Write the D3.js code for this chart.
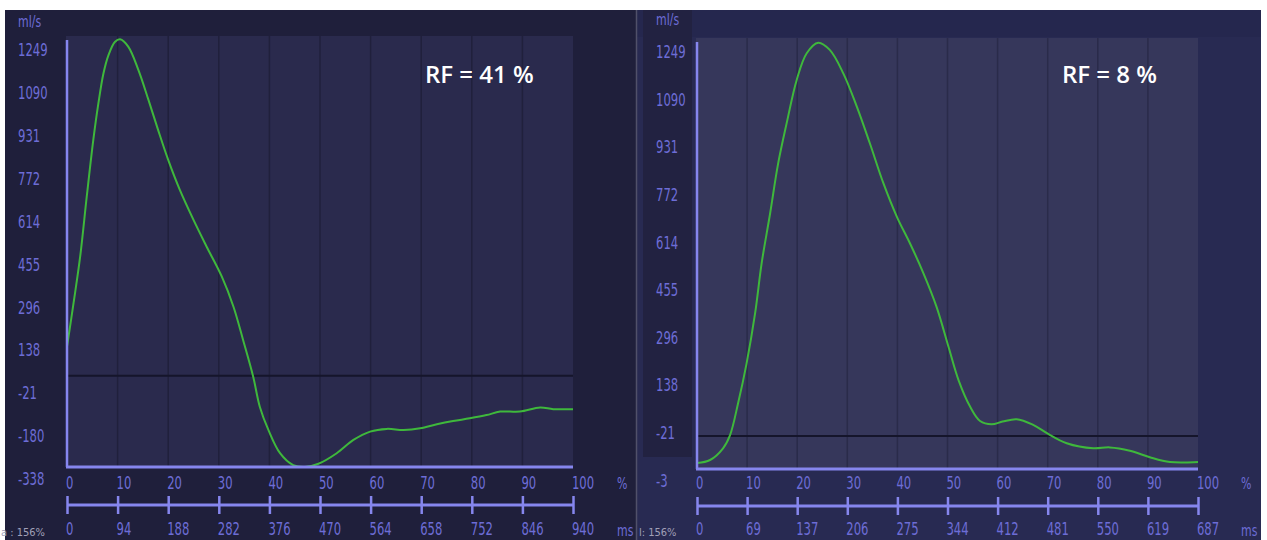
<!DOCTYPE html>
<html><head><meta charset="utf-8">
<script src="https://cdn.jsdelivr.net/npm/d3@7"></script>
<style>body{margin:0;background:#fff;} svg{display:block}</style>
</head><body>
<svg id="c" width="1267" height="540"></svg>
<script>
// ---------- data ----------
const pctTicks = [0,10,20,30,40,50,60,70,80,90,100];
const yTicksLeft = [1249,1090,931,772,614,455,296,138,-21,-180,-338];
const yTickLabelsLeft = ["1249","1090","931","772","614","455","296","138","-21","-180","-338"];
const yTicksRight = [1249,1090,931,772,614,455,296,138,-21,-180];
const yTickLabelsRight = ["1249","1090","931","772","614","455","296","138","-21","-3"];
const msLabelsLeft = ["0","94","188","282","376","470","564","658","752","846","940"];
const msLabelsRight = ["0","69","137","206","275","344","412","481","550","619","687"];

const leftPct  = [0,1.3,2.6,3.9,5.2,6.2,7.2,8.2,9.5,10.5,12.1,14.1,16.1,18.0,20.0,22.3,25.0,27.6,30.6,32.9,34.8,36.8,38.1,39.8,42.1,44.7,47.0,49.7,53.3,56.6,59.9,63.2,66.5,69.8,73.1,76.3,79.6,82.9,85.6,89.5,93.5,96.1,100];
const leftFlow = [107,269,440,662,872,1007,1118,1186,1235,1244,1217,1131,1020,909,798,687,576,477,366,255,132,-4,-115,-201,-287,-331,-338,-326,-287,-238,-207,-197,-201,-195,-180,-168,-158,-146,-133,-133,-118,-124,-124];

const rightPct  = [0,2.6,5.2,6.6,8.2,9.9,11.6,12.9,14.6,16.2,17.9,19.9,21.9,24.2,26.5,29.2,31.9,34.5,37.2,39.9,42.5,45.2,47.8,50.2,52.2,54.5,56.5,58.8,61.0,63.8,67.1,70.1,73.8,79.1,82.4,86.4,90.4,94.4,100];
const rightFlow = [-160,-150,-111,-67,39,172,339,505,672,838,972,1116,1205,1240,1216,1138,1027,905,772,660,572,472,361,227,116,28,-20,-31,-22,-14,-33,-63,-94,-111,-108,-119,-141,-157,-157];

const rfLeft = "RF = 41 %";
const rfRight = "RF = 8 %";
const refLineLeft = 0;
const refLineRight = -70;

// ---------- drawing ----------
const svg = d3.select("#c");
const labelFont = "'DejaVu Sans Condensed','Liberation Sans Narrow',sans-serif";
const labelColor = "#6d6dd6";
const axisColor = "#8686ee";
const SX = 0.76;

function styleLabel(sel, size) {
  return sel.attr("fill", labelColor).style("font-family", labelFont).style("font-size", size + "px");
}

function panel(cfg) {
  const g = svg.append("g");
  // backgrounds
  g.append("rect").attr("x", cfg.px0).attr("y", 10).attr("width", cfg.px1 - cfg.px0).attr("height", 530).attr("fill", cfg.outer);
  if (cfg.topBand) g.append("rect").attr("x", cfg.px0).attr("y", 10).attr("width", cfg.px1 - cfg.px0).attr("height", 27).attr("fill", cfg.topBand);
  if (cfg.labelBox) g.append("rect").attr("x", cfg.labelBox[0]).attr("y", 10).attr("width", cfg.labelBox[1]-cfg.labelBox[0]).attr("height", cfg.labelBox[2]-10).attr("fill", cfg.labelBoxFill);
  const x = d3.scaleLinear().domain([0,100]).range([cfg.x0, cfg.x1]);
  const y = d3.scaleLinear().domain([cfg.yMin, 1249]).range([cfg.yBottom, cfg.yTop]);
  g.append("rect").attr("x", x(0)-1).attr("y", cfg.yTop-2).attr("width", x(100)-x(0)+1).attr("height", cfg.yBottom-cfg.yTop+2).attr("fill", cfg.plotFill);

  // vertical grid
  g.append("g").selectAll("line").data(pctTicks.slice(1,-1)).join("line")
    .attr("x1", d=>x(d)).attr("x2", d=>x(d)).attr("y1", cfg.yTop-2).attr("y2", cfg.yBottom)
    .attr("stroke", cfg.gridColor).attr("stroke-width", 1.5);

  // reference (zero) line
  g.append("line").attr("x1", x(0)).attr("x2", x(100)).attr("y1", y(cfg.ref)).attr("y2", y(cfg.ref))
    .attr("stroke", "#15152b").attr("stroke-width", 2);

  // curve
  const line = d3.line().x((d,i)=>x(cfg.pct[i])).y(d=>y(d)).curve(d3.curveCatmullRom.alpha(0.5));
  g.append("path").attr("d", line(cfg.flow)).attr("fill","none").attr("stroke","#3fb83c").attr("stroke-width",2);

  // axis lines
  g.append("line").attr("x1", x(0)).attr("x2", x(0)).attr("y1", cfg.yTop+2).attr("y2", cfg.yBottom)
    .attr("stroke", axisColor).attr("stroke-width", 2.5);
  g.append("line").attr("x1", x(0)-1).attr("x2", x(100)).attr("y1", cfg.yBottom).attr("y2", cfg.yBottom)
    .attr("stroke", axisColor).attr("stroke-width", 3);

  // y labels
  const ya = g.append("g").attr("transform", `translate(${cfg.yLabelX},0)`)
    .call(d3.axisLeft(y).tickValues(cfg.yTicks).tickSize(0).tickFormat((d,i)=>cfg.yLabels[i]));
  ya.select(".domain").remove();
  styleLabel(ya.selectAll("text").attr("x", 0).attr("y", 12).attr("text-anchor","start")
    .attr("transform", `scale(${SX},1)`), 17);

  // % axis labels
  const xa = g.append("g").attr("transform", `translate(0,${cfg.yBottom})`)
    .call(d3.axisBottom(x).tickValues(pctTicks).tickSize(0));
  xa.select(".domain").remove();
  styleLabel(xa.selectAll("text").attr("x", -2).attr("y", 484 - cfg.yBottom).attr("dy","0.32em").attr("text-anchor","start")
    .attr("transform", `scale(${SX},1)`), 17);

  // ms axis
  const msY = cfg.msY;
  g.append("line").attr("x1", x(0)).attr("x2", x(100)).attr("y1", msY).attr("y2", msY)
    .attr("stroke", axisColor).attr("stroke-width", 3);
  const ma = g.append("g").attr("transform", `translate(0,${msY})`)
    .call(d3.axisBottom(x).tickValues(pctTicks).tickSize(9).tickFormat((d,i)=>cfg.msLabels[i]));
  ma.select(".domain").remove();
  ma.selectAll(".tick line").attr("y1", -9).attr("y2", 9).attr("stroke", axisColor).attr("stroke-width", 2.5);
  styleLabel(ma.selectAll("text").attr("x", -2).attr("y", 530 - msY).attr("dy","0.32em").attr("text-anchor","start")
    .attr("transform", `scale(${SX},1)`), 17);

  // units
  const unit = (t, ux, uy) => styleLabel(g.append("text").attr("transform", `translate(${ux},${uy}) scale(${SX},1)`)
    .attr("dy","0.32em").text(t), 16);
  unit("ml/s", cfg.yLabelX, cfg.unitY);
  unit("%", cfg.unitX, 484);
  unit("ms", cfg.unitX, 531);

  // small footer
  g.append("text").attr("x", cfg.footX).attr("y", 536).text(cfg.foot)
    .attr("fill", "#a0a0b8").style("font-family","'DejaVu Sans Condensed',sans-serif").style("font-size","11px");

  // RF label
  g.append("text").attr("x", cfg.rfX).attr("y", 83).text(cfg.rf)
    .attr("fill", "#ffffff").style("font-family","'Open Sans',sans-serif").style("font-weight","600").style("font-size","24px");
}

panel({px0:5, px1:636, outer:"#1f1f3b", plotFill:"#2a2a4d", gridColor:"#20203c",
  x0:67, x1:573, yTop:38, yBottom:467, yMin:-338, ref:refLineLeft,
  pct:leftPct, flow:leftFlow, yTicks:yTicksLeft, yLabels:yTickLabelsLeft, yLabelX:18,
  msLabels:msLabelsLeft, msY:505, unitX:617, unitY:22, foot:"a : 156%", footX:1,
  rf:rfLeft, rfX:425});

panel({px0:637, px1:1261, outer:"#282a52", topBand:"#25274e", plotFill:"#36375b", gridColor:"#2a2b4a",
  labelBox:[643,692,457], labelBoxFill:"#222241",
  x0:697, x1:1198, yTop:40, yBottom:469, yMin:-180, ref:refLineRight,
  pct:rightPct, flow:rightFlow, yTicks:yTicksRight, yLabels:yTickLabelsRight, yLabelX:656,
  msLabels:msLabelsRight, msY:506, unitX:1241, unitY:20, foot:"l: 156%", footX:639,
  rf:rfRight, rfX:1062});

// separator
svg.append("line").attr("x1",636.5).attr("x2",636.5).attr("y1",10).attr("y2",540).attr("stroke","#50506a").attr("stroke-width",1.5);
</script>
</body></html>
